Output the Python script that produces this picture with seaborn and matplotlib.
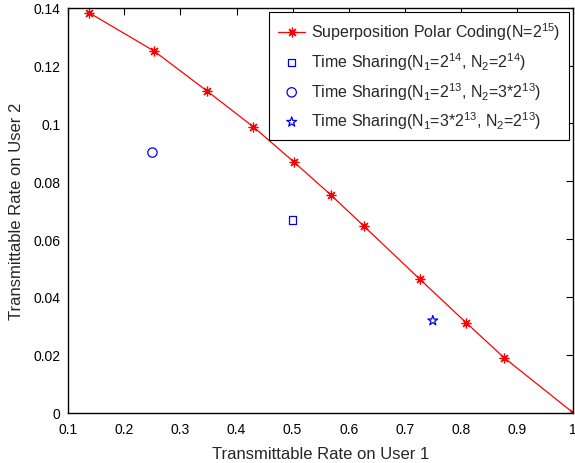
import matplotlib
matplotlib.use('Agg')
import matplotlib.pyplot as plt
import pandas as pd
import seaborn as sns
from matplotlib.ticker import FormatStrFormatter

# Superposition polar coding curve
sp_rate1 = [0.1375, 0.253, 0.348, 0.430, 0.502, 0.568, 0.627, 0.727, 0.810, 0.877, 1.0]
sp_rate2 = [0.1382, 0.1250, 0.1111, 0.0988, 0.0867, 0.0753, 0.0645, 0.0461, 0.0310, 0.0190, 0.0]

# Time sharing points
ts_labels = [
    'Time Sharing(N$_1$=2$^{14}$, N$_2$=2$^{14}$)',
    'Time Sharing(N$_1$=2$^{13}$, N$_2$=3*2$^{13}$)',
    'Time Sharing(N$_1$=3*2$^{13}$, N$_2$=2$^{13}$)',
]
ts_rate1 = [0.50, 0.25, 0.75]
ts_rate2 = [0.0666, 0.0899, 0.0318]
ts_markers = ['s', 'o', '*']
ts_sizes = [28, 45, 55]

sp_label = 'Superposition Polar Coding(N=2$^{15}$)'

sns.set_style('white')
plt.rcParams['font.family'] = ['Liberation Sans', 'DejaVu Sans']
plt.rcParams['mathtext.default'] = 'regular'

fig = plt.figure(figsize=(5.75, 4.64), dpi=100)
ax = fig.add_axes([0.1188, 0.1086, 0.8777, 0.8727])

sp = pd.DataFrame({'r1': sp_rate1, 'r2': sp_rate2})
sns.lineplot(data=sp, x='r1', y='r2', ax=ax, color='red', lw=0.9,
             marker=(8, 2, 0), markersize=7, markeredgewidth=0.9,
             markeredgecolor='red', label=sp_label, sort=False)

for lab, x, y, m, s in zip(ts_labels, ts_rate1, ts_rate2, ts_markers, ts_sizes):
    sns.scatterplot(x=[x], y=[y], ax=ax, marker=m, s=s, facecolor='none',
                    edgecolor='blue', linewidth=0.9, label=lab)

ax.set_xlim(0.1, 1.0)
ax.set_ylim(0, 0.14)
ax.set_xticks([0.1, 0.2, 0.3, 0.4, 0.5, 0.6, 0.7, 0.8, 0.9, 1.0])
ax.set_yticks([0, 0.02, 0.04, 0.06, 0.08, 0.1, 0.12, 0.14])
ax.xaxis.set_major_formatter(FormatStrFormatter('%g'))
ax.yaxis.set_major_formatter(FormatStrFormatter('%g'))
ax.tick_params(direction='in', top=True, right=True, length=5, width=0.8,
               labelsize=10, colors='black')
ax.tick_params(axis='x', pad=7)
ax.tick_params(axis='y', pad=5.5)
for sp_ in ax.spines.values():
    sp_.set_color('black')
    sp_.set_linewidth(1.0)

ax.set_xlabel('Transmittable Rate on User 1', fontsize=12, labelpad=7)
ax.set_ylabel('Transmittable Rate on User 2', fontsize=12, labelpad=7)

leg = ax.legend(loc='upper right', fontsize=11.5, frameon=True, fancybox=False,
                edgecolor='black', framealpha=1, borderaxespad=0.25,
                handlelength=1.7, handletextpad=0.35, borderpad=0.55,
                labelspacing=0.5)
leg.get_frame().set_linewidth(0.8)

fig.savefig('out.png', dpi=100)
